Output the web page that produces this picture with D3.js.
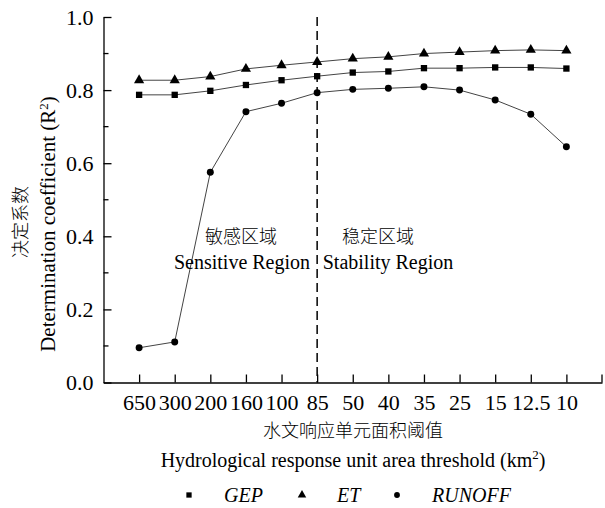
<!DOCTYPE html>
<html>
<head>
<meta charset="utf-8">
<script src="https://cdn.jsdelivr.net/npm/d3@7"></script>
<style>
  body { margin: 0; background: #fff; }
</style>
</head>
<body>
<svg id="chart"></svg>
<script>
// thresholds (km2), left to right
const thresholds = ["650", "300", "200", "160", "100", "85", "50", "40", "35", "25", "15", "12.5", "10"];
const gep    = [0.787, 0.787, 0.798, 0.814, 0.827, 0.838, 0.848, 0.851, 0.860, 0.860, 0.862, 0.862, 0.859];
const et     = [0.827, 0.827, 0.837, 0.858, 0.868, 0.877, 0.886, 0.891, 0.900, 0.904, 0.908, 0.910, 0.908];
const runoff = [0.095, 0.111, 0.575, 0.741, 0.764, 0.793, 0.802, 0.805, 0.809, 0.800, 0.773, 0.734, 0.645];
const yMajor = [0, 0.2, 0.4, 0.6, 0.8, 1.0];
const yMinor = [0.1, 0.3, 0.5, 0.7, 0.9];
const splitAt = "85";

const series = [
  {name: "GEP", values: gep, symbol: d3.symbolSquare, size: 40},
  {name: "ET", values: et, symbol: d3.symbolTriangle, size: 45},
  {name: "RUNOFF", values: runoff, symbol: d3.symbolCircle, size: 38}
];

const SERIF = '"Liberation Serif", "Times New Roman", serif';
const CJK = '"Noto Sans CJK SC", sans-serif';

const W = 605, H = 508;
const svg = d3.select("#chart").attr("width", W).attr("height", H);

const x = d3.scalePoint().domain(thresholds).range([103.5, 602]).padding(1);
const y = d3.scaleLinear().domain([0, 1]).range([382.5, 17]);

// axes, ticks pointing inward
const xAxis = d3.axisBottom(x).tickSize(-8).tickPadding(14).tickSizeOuter(0);
const gx = svg.append("g").attr("transform", `translate(0,${y(0)})`).call(xAxis);
gx.append("line").attr("x1", x.range()[1]).attr("x2", x.range()[1]).attr("y1", 0).attr("y2", -8);

const yAxis = d3.axisLeft(y).tickValues(yMajor).tickFormat(d3.format(".1f"))
  .tickSize(-8).tickPadding(10).tickSizeOuter(0);
const gy = svg.append("g").attr("transform", `translate(${x.range()[0]},0)`).call(yAxis);
gy.selectAll(".minor").data(yMinor).join("line").attr("class", "minor")
  .attr("x1", 0).attr("x2", 5).attr("y1", d => y(d)).attr("y2", d => y(d));

svg.selectAll(".domain, .tick line, .minor, g > line").attr("stroke", "#000").attr("stroke-width", 1.3);
gx.attr("font-family", null).attr("font-size", null);
gy.attr("font-family", null).attr("font-size", null);
svg.selectAll(".tick text")
  .style("font-family", SERIF).style("font-size", "22px").attr("fill", "#000");
gx.selectAll(".tick text").attr("dy", "0.6em");

// dashed split line
svg.append("line")
  .attr("x1", x(splitAt)).attr("x2", x(splitAt))
  .attr("y1", y(1)).attr("y2", y(0))
  .attr("stroke", "#000").attr("stroke-width", 1.5).attr("stroke-dasharray", "9,5");

// series
const line = d3.line().x((d, i) => x(thresholds[i])).y(d => y(d));
series.forEach(s => {
  svg.append("path").datum(s.values).attr("d", line)
    .attr("fill", "none").attr("stroke", "#444").attr("stroke-width", 1);
  svg.selectAll(null).data(s.values).join("path")
    .attr("d", d3.symbol(s.symbol, s.size))
    .attr("transform", (d, i) => `translate(${x(thresholds[i])},${y(d)})`)
    .attr("fill", "#000");
});

function label(px, py, txt, font, size, rotate) {
  const t = svg.append("text")
    .attr("transform", `translate(${px},${py})` + (rotate ? " rotate(-90)" : ""))
    .attr("text-anchor", "middle").attr("fill", "#000")
    .style("font-family", font).style("font-size", size + "px");
  if (font === CJK) t.style("font-weight", 300);
  t.text(txt);
  return t;
}

// region labels
label(241, 243, "敏感区域", CJK, 18);
label(242, 269, "Sensitive Region", SERIF, 20);
label(378, 243, "稳定区域", CJK, 18);
label(388, 269, "Stability Region", SERIF, 20);

// y titles
label(27, 222, "决定系数", CJK, 18, true);
const yt = label(55, 224, "", SERIF, 21, true);
yt.append("tspan").text("Determination coefficient (R");
yt.append("tspan").attr("dy", -7).style("font-size", "13px").text("2");
yt.append("tspan").attr("dy", 7).text(")");

// x titles
label(353, 437, "水文响应单元面积阈值", CJK, 18);
const xt = label(353, 467, "", SERIF, 20);
xt.append("tspan").text("Hydrological response unit area threshold (km");
xt.append("tspan").attr("dy", -8).style("font-size", "13px").text("2");
xt.append("tspan").attr("dy", 8).text(")");

// legend
const legendX = [189, 302, 397];
const lg = svg.selectAll(".legend").data(series).join("g").attr("class", "legend")
  .attr("transform", (d, i) => `translate(${legendX[i]},495)`);
lg.append("path").attr("d", d => d3.symbol(d.symbol, d.size * 0.7)()).attr("fill", "#000");
lg.append("text").attr("x", 35).attr("y", 7).attr("fill", "#000")
  .style("font-family", SERIF).style("font-size", "20px").style("font-style", "italic")
  .text(d => d.name);
</script>
</body>
</html>
